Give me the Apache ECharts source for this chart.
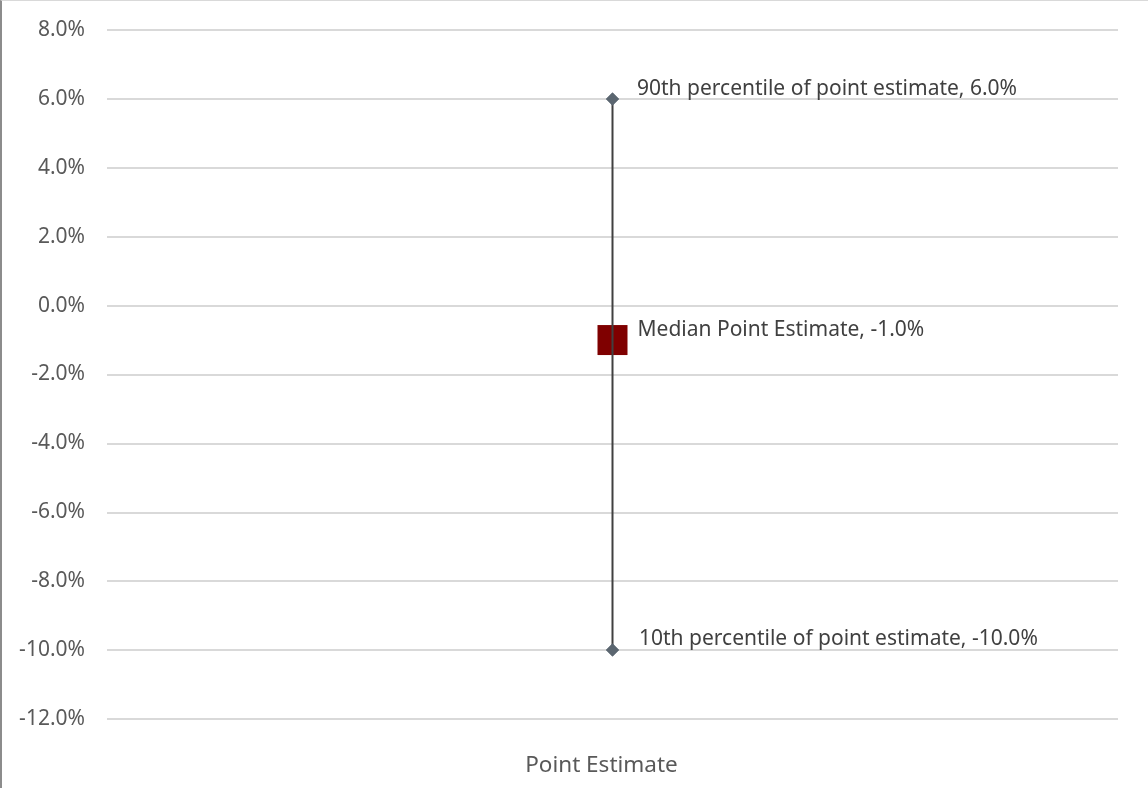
<!DOCTYPE html>
<html><head><meta charset="utf-8">
<script src="https://cdn.jsdelivr.net/npm/echarts@6/dist/echarts.min.js"></script>
<style>
html,body{margin:0;padding:0;background:#fff;}
#c{width:1148px;height:788px;box-sizing:border-box;border-left:2px solid #8c8c8c;border-top:1px solid #d9d9d9;}
</style></head>
<body><div id="c"></div>
<script>
const categories = ['Point Estimate'];
const p90Values = [6.0];
const medianValues = [-1.0];
const p10Values = [-10.0];
const p90Name = '90th percentile of point estimate';
const medianName = 'Median Point Estimate';
const p10Name = '10th percentile of point estimate';
const yTicks = {min: -12, max: 8, interval: 2};

const font = 'Noto Sans, sans-serif';
const labelStyle = (name, dy, dist) => ({
  show: true, position: 'right', distance: dist, offset: [0, dy],
  color: '#404040', fontSize: 21, fontFamily: font,
  formatter: p => name + ', ' + p.value[1].toFixed(1) + '%'
});

const chart = echarts.init(document.getElementById('c'));
chart.setOption({
  animation: false,
  grid: {left: 105, right: 30, top: 29, bottom: 69},
  xAxis: {
    type: 'category', data: categories, boundaryGap: true,
    axisLine: {show: false}, axisTick: {show: false},
    axisLabel: {color: '#595959', fontSize: 22.5, fontFamily: font, margin: 35,
      padding: [0, 22, 0, 0]}
  },
  yAxis: {
    type: 'value', min: yTicks.min, max: yTicks.max, interval: yTicks.interval,
    axisLine: {show: false}, axisTick: {show: false},
    axisLabel: {color: '#595959', fontSize: 21, fontFamily: font, margin: 22,
      formatter: v => v.toFixed(1) + '%'},
    splitLine: {lineStyle: {color: '#d9d9d9', width: 2}}
  },
  series: [
    {
      type: 'line', z: 2,
      data: [[0, p90Values[0]], [0, p10Values[0]]],
      lineStyle: {color: '#404040', width: 2},
      symbol: 'diamond', symbolSize: 13,
      itemStyle: {color: '#5b6670'},
      label: {show: false}
    },
    {
      type: 'scatter', z: 3,
      data: categories.map((c, i) => [i, p90Values[i]]),
      symbol: 'diamond', symbolSize: 13, itemStyle: {color: '#5b6670', opacity: 1},
      label: labelStyle(p90Name, -10, 18)
    },
    {
      type: 'scatter', z: 3,
      data: categories.map((c, i) => [i, p10Values[i]]),
      symbol: 'diamond', symbolSize: 13, itemStyle: {color: '#5b6670', opacity: 1},
      label: labelStyle(p10Name, -11, 20)
    },
    {
      type: 'scatter', z: 1,
      data: categories.map((c, i) => [i, medianValues[i]]),
      symbol: 'rect', symbolSize: 30, itemStyle: {color: '#7f0000', opacity: 1, borderRadius: 2},
      label: labelStyle(medianName, -10, 10)
    }
  ]
});
</script></body></html>
